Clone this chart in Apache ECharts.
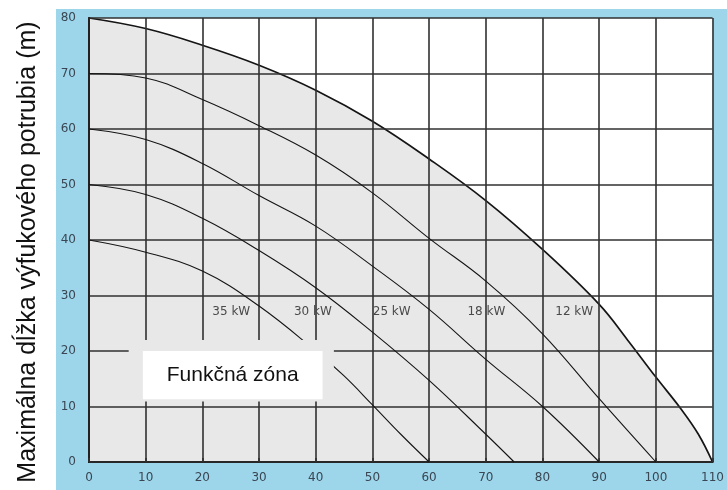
<!DOCTYPE html>
<html><head><meta charset="utf-8">
<script src="https://cdn.jsdelivr.net/npm/echarts@6/dist/echarts.min.js"></script>
<style>html,body{margin:0;padding:0;background:#fff}#c{width:727px;height:490px}</style>
</head><body><div id="c"></div><script>
// ---- data ----
const yAxisTitle = 'Maximálna dĺžka výfukového potrubia (m)';
const zoneText = 'Funkčná zóna';

const curve12X = [0, 10, 20, 30, 40, 50, 60, 70, 80, 90, 95, 100, 104.4, 107.5, 110];
const curve12Y = [80, 78.1, 75.1, 71.5, 67.0, 61.4, 54.6, 47.1, 38.3, 28.4, 22.0, 15.3, 9.6, 5.0, 0];

const curve18X = [0, 10, 20, 30, 40, 50, 60, 70, 80, 90, 100];
const curve18Y = [70, 69.2, 65.3, 60.6, 55.3, 48.5, 40.3, 32.6, 23.1, 11.4, 0];

const curve25X = [0, 10, 20, 30, 40, 50, 60, 70, 80, 90];
const curve25Y = [60, 58.1, 53.8, 48.0, 42.5, 35.3, 27.5, 18.5, 10, 0];

const curve30X = [0, 10, 20, 30, 40, 50, 60, 70, 75];
const curve30Y = [50, 48.2, 43.9, 38.1, 31.4, 23.4, 14.7, 5.0, 0];

const curve35X = [0, 10, 20, 30, 40, 45, 50, 55, 60];
const curve35Y = [40, 37.8, 34.4, 28.1, 20.0, 15.5, 10.3, 5.0, 0];

const powerLabels = ['35 kW', '30 kW', '25 kW', '18 kW', '12 kW'];
const powerLabelX = [25.1, 39.5, 53.4, 70.1, 85.6];
const powerLabelY = [27, 27, 27, 27, 27];

// zone box corners (data units): halo and white box
const zoneHalo = [7.0, 22.0, 43.2, 10.9];
const zoneBox = [9.5, 20.0, 41.2, 11.3];

const xMin = 0, xMax = 110, xStep = 10;
const yMin = 0, yMax = 80, yStep = 10;

// ---- chart ----
const pairs = (xs, ys) => xs.map((x, i) => [x, ys[i]]);
const chart = echarts.init(document.getElementById('c'), null, {renderer: 'canvas'});

const gridColor = '#303030';
const labelFont = {color: '#3a4652', fontSize: 12, fontFamily: 'DejaVu Sans'};

function curve(name, xs, ys, width, area) {
  const s = {
    name, type: 'line', data: pairs(xs, ys), smooth: 0.4,
    symbol: 'none', silent: true, z: area ? 1 : 4,
    lineStyle: {color: '#151515', width: width}
  };
  if (area) s.areaStyle = {color: '#e8e8e8', opacity: 1};
  return s;
}

const option = {
  animation: false,
  backgroundColor: '#ffffff',
  graphic: [
    {type: 'rect', left: 56, top: 9, z: -1, shape: {width: 671, height: 481}, style: {fill: '#9dd5ea'}},
    {type: 'text', x: 28, y: 252, rotation: Math.PI / 2, z: 10,
     style: {text: yAxisTitle, fontFamily: 'Liberation Sans, Arial', fontSize: 25,
             fill: '#111', align: 'center', verticalAlign: 'middle'}}
  ],
  grid: {left: 89, right: 12, top: 18, bottom: 28, show: true, backgroundColor: '#ffffff', borderWidth: 0},
  xAxis: [
    {type: 'value', min: xMin, max: xMax, interval: xStep, z: 3,
     axisLine: {show: true, lineStyle: {color: '#111', width: 2.2}},
     axisTick: {show: false},
     axisLabel: Object.assign({margin: 10}, labelFont),
     splitLine: {show: true, lineStyle: {color: gridColor, width: 1.6}}},
    {type: 'value', position: 'top', min: xMin, max: xMax, interval: xStep, z: 3,
     axisLine: {show: true, lineStyle: {color: gridColor, width: 1.6}},
     axisTick: {show: true, inside: false, length: 4, lineStyle: {color: gridColor, width: 1.6}},
     axisLabel: {show: false}, splitLine: {show: false}}
  ],
  yAxis: [
    {type: 'value', min: yMin, max: yMax, interval: yStep, z: 3,
     axisLine: {show: true, lineStyle: {color: '#222', width: 1.8}},
     axisTick: {show: false},
     axisLabel: Object.assign({margin: 13}, labelFont),
     splitLine: {show: true, lineStyle: {color: gridColor, width: 1.6}}},
    {type: 'value', position: 'right', min: yMin, max: yMax, interval: yStep, z: 3,
     axisLine: {show: true, lineStyle: {color: '#222', width: 2}},
     axisTick: {show: false}, axisLabel: {show: false}, splitLine: {show: false}}
  ],
  series: [
    curve('12 kW', curve12X, curve12Y, 1.7, true),
    curve('18 kW', curve18X, curve18Y, 1.1, false),
    curve('25 kW', curve25X, curve25Y, 1.1, false),
    curve('30 kW', curve30X, curve30Y, 1.1, false),
    curve('35 kW', curve35X, curve35Y, 1.1, false),
    {
      type: 'custom', z: 6, silent: true,
      encode: {x: [0, 2], y: [1, 3]},
      data: [[zoneHalo[0], zoneHalo[1], zoneHalo[2], zoneHalo[3], zoneBox[0], zoneBox[1], zoneBox[2], zoneBox[3]]],
      renderItem: function (params, api) {
        const h0 = api.coord([api.value(0), api.value(1)]);
        const h1 = api.coord([api.value(2), api.value(3)]);
        const b0 = api.coord([api.value(4), api.value(5)]);
        const b1 = api.coord([api.value(6), api.value(7)]);
        return {type: 'group', children: [
          {type: 'rect', shape: {x: h0[0], y: h0[1], width: h1[0] - h0[0], height: h1[1] - h0[1]}, style: {fill: '#e8e8e8'}},
          {type: 'rect', shape: {x: b0[0], y: b0[1], width: b1[0] - b0[0], height: b1[1] - b0[1]}, style: {fill: '#ffffff'}},
          {type: 'text', x: (b0[0] + b1[0]) / 2, y: (b0[1] + b1[1]) / 2,
           style: {text: zoneText, fontFamily: 'Liberation Sans, Arial', fontSize: 21,
                   fill: '#111', align: 'center', verticalAlign: 'middle'}}
        ]};
      }
    },
    {
      type: 'custom', z: 7, silent: true,
      data: powerLabels.map((t, i) => [powerLabelX[i], powerLabelY[i], t]),
      renderItem: function (params, api) {
        const p = api.coord([api.value(0), api.value(1)]);
        return {type: 'text', x: p[0], y: p[1],
                style: {text: powerLabels[params.dataIndex], fontFamily: 'DejaVu Sans', fontSize: 12,
                        fill: '#4a4a4a', align: 'center', verticalAlign: 'middle'}};
      }
    }
  ]
};
chart.setOption(option);
</script></body></html>
